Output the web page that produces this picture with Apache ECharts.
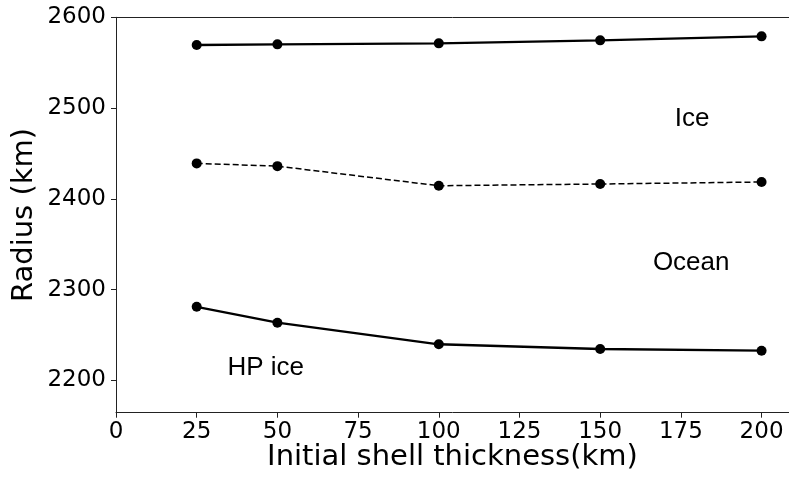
<!DOCTYPE html>
<html>
<head>
<meta charset="utf-8">
<script src="https://cdn.jsdelivr.net/npm/echarts@6/dist/echarts.min.js"></script>
<style>
  html, body { margin: 0; padding: 0; background: #fff; }
  #chart { width: 789px; height: 480px; }
</style>
</head>
<body>
<div id="chart"></div>
<script>
// Initial shell thickness (km)
const thickness = [25, 50, 100, 150, 200];
// Radius of the ice / ocean top boundary (km)
const iceTop = [2569.5, 2570.2, 2571.3, 2574.6, 2579.0];
// Radius of the ocean / HP-ice boundary (km), dashed
const oceanTop = [2439.0, 2436.0, 2414.4, 2416.3, 2418.5];
// Radius of the top of the high-pressure ice layer (km)
const hpIceTop = [2281.0, 2263.5, 2239.7, 2234.5, 2232.6];

const xTicks = [0, 25, 50, 75, 100, 125, 150, 175, 200];
const yTicks = [2200, 2300, 2400, 2500, 2600];

// Layer names and where they sit (data coordinates)
const layerNames = ['Ice', 'Ocean', 'HP ice'];
const layerAnchorX = [178.5, 178.2, 46.4];
const layerAnchorY = [2487.6, 2329.6, 2213.8];

const X_MIN = 0, X_MAX = 208.5;
const Y_MIN = 2164.3, Y_MAX = 2600;

const axisColor = '#222';
const tickFont = { fontFamily: 'DejaVu Sans', fontSize: 23, color: '#000' };

const chart = echarts.init(document.getElementById('chart'), null, { renderer: 'canvas' });

const pairs = (xs, ys) => xs.map((x, i) => [x, ys[i]]);

chart.setOption({
  animation: false,
  backgroundColor: '#fff',
  grid: { left: 116, right: 0, top: 17.3, bottom: 67.3, containLabel: false, outerBoundsMode: 'none' },
  xAxis: [
    {
      type: 'value',
      min: X_MIN, max: X_MAX,
      position: 'bottom',
      name: 'Initial shell thickness(km)',
      nameLocation: 'middle',
      nameMoveOverlap: false,
      nameGap: 30,
      nameTextStyle: { fontFamily: 'DejaVu Sans', fontSize: 29, color: '#000' },
      axisLine: { show: true, onZero: false, lineStyle: { color: axisColor, width: 1 } },
      axisTick: { show: true, length: 5, customValues: xTicks, lineStyle: { color: axisColor, width: 1 } },
      axisLabel: Object.assign({ margin: 8, customValues: xTicks, formatter: v => String(v) }, tickFont),
      splitLine: { show: false }
    },
    {
      type: 'value',
      min: X_MIN, max: X_MAX,
      position: 'top',
      axisLine: { show: true, onZero: false, lineStyle: { color: axisColor, width: 1 } },
      axisTick: { show: false },
      axisLabel: { show: false },
      splitLine: { show: false }
    }
  ],
  yAxis: {
    type: 'value',
    min: Y_MIN, max: Y_MAX,
    name: 'Radius (km)',
    nameLocation: 'middle',
    nameMoveOverlap: false,
    nameGap: 77,
    nameTextStyle: { fontFamily: 'DejaVu Sans', fontSize: 29, color: '#000' },
    axisLine: { show: true, onZero: false, lineStyle: { color: axisColor, width: 1 } },
    axisTick: { show: true, length: 5, customValues: yTicks, lineStyle: { color: axisColor, width: 1 } },
    axisLabel: Object.assign({ margin: 10, customValues: yTicks, formatter: v => String(v) }, tickFont),
    splitLine: { show: false }
  },
  series: [
    {
      type: 'line',
      data: pairs(thickness, iceTop),
      symbol: 'circle', symbolSize: 10,
      itemStyle: { color: '#000' },
      lineStyle: { color: '#000', width: 2.3 }
    },
    {
      type: 'line',
      data: pairs(thickness, oceanTop),
      symbol: 'circle', symbolSize: 10,
      itemStyle: { color: '#000' },
      lineStyle: { color: '#000', width: 1.5, type: [6, 3] }
    },
    {
      type: 'line',
      data: pairs(thickness, hpIceTop),
      symbol: 'circle', symbolSize: 10,
      itemStyle: { color: '#000' },
      lineStyle: { color: '#000', width: 2.3 }
    },
    {
      type: 'scatter',
      symbolSize: 0,
      silent: true,
      itemStyle: { color: '#000', opacity: 1 },
      data: layerNames.map((n, i) => ({ name: n, value: [layerAnchorX[i], layerAnchorY[i]] })),
      label: {
        show: true,
        position: 'inside',
        formatter: p => p.name,
        fontFamily: 'Liberation Sans',
        fontSize: 26,
        color: '#000',
        opacity: 1
      }
    }
  ]
});
</script>
</body>
</html>
